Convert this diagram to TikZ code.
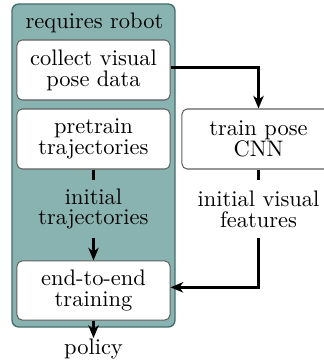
\documentclass[tikz,border=0pt]{standalone}
\usetikzlibrary{arrows.meta}
\definecolor{tealfill}{RGB}{137,179,177}
\definecolor{tealdraw}{RGB}{68,110,108}
\definecolor{boxdraw}{RGB}{95,95,95}
\begin{document}
\begin{tikzpicture}[x=0.445pt,y=-0.445pt,
  txt/.style={align=center, inner sep=0pt, font=\fontsize{10}{9.3}\selectfont},
  stepbox/.style={txt, draw=boxdraw, line width=0.45pt, fill=white, rounded corners=2.3pt,
    minimum width=68.1pt, minimum height=26.7pt},
  lbl/.style={txt, minimum height=25.8pt},
  conn/.style={line width=1.1pt, black},
  arr/.style={conn, -{Stealth[length=5.6pt,width=4.6pt,inset=1.6pt]}}]
\useasboundingbox (0,0) rectangle (324,362);
\path[draw=tealdraw, line width=0.6pt, fill=tealfill, rounded corners=3pt] (12,4) rectangle (175,327);
\node[txt] (robot) at (94.5,23) {requires robot};
\node[stepbox] (collect) at (93.5,70) {collect visual\\pose data};
\node[stepbox] (pretrain) at (93.5,139) {pretrain\\trajectories};
\node[stepbox, minimum height=26.3pt] (e2e) at (93.5,290.5) {end-to-end\\training};
\node[stepbox] (cnn) at (258.5,139) {train pose\\CNN};
\node[lbl] (inittraj) at (93.5,209) {initial\\trajectories};
\node[lbl] (initvis) at (258.5,209) {initial visual\\features};
\node[txt, anchor=north] (policy) at (93.5,338) {policy};
\draw[arr] ([yshift=1.1pt]collect.east) -| (cnn.north);
\draw[conn] (pretrain.south) -- (inittraj.north);
\draw[arr] (inittraj.south) -- (e2e.north);
\draw[conn] (cnn.south) -- (initvis.north);
\draw[arr] (initvis.south) |- ([yshift=1.4pt]e2e.east);
\draw[arr] (e2e.south) -- (policy.north);
\end{tikzpicture}
\end{document}
